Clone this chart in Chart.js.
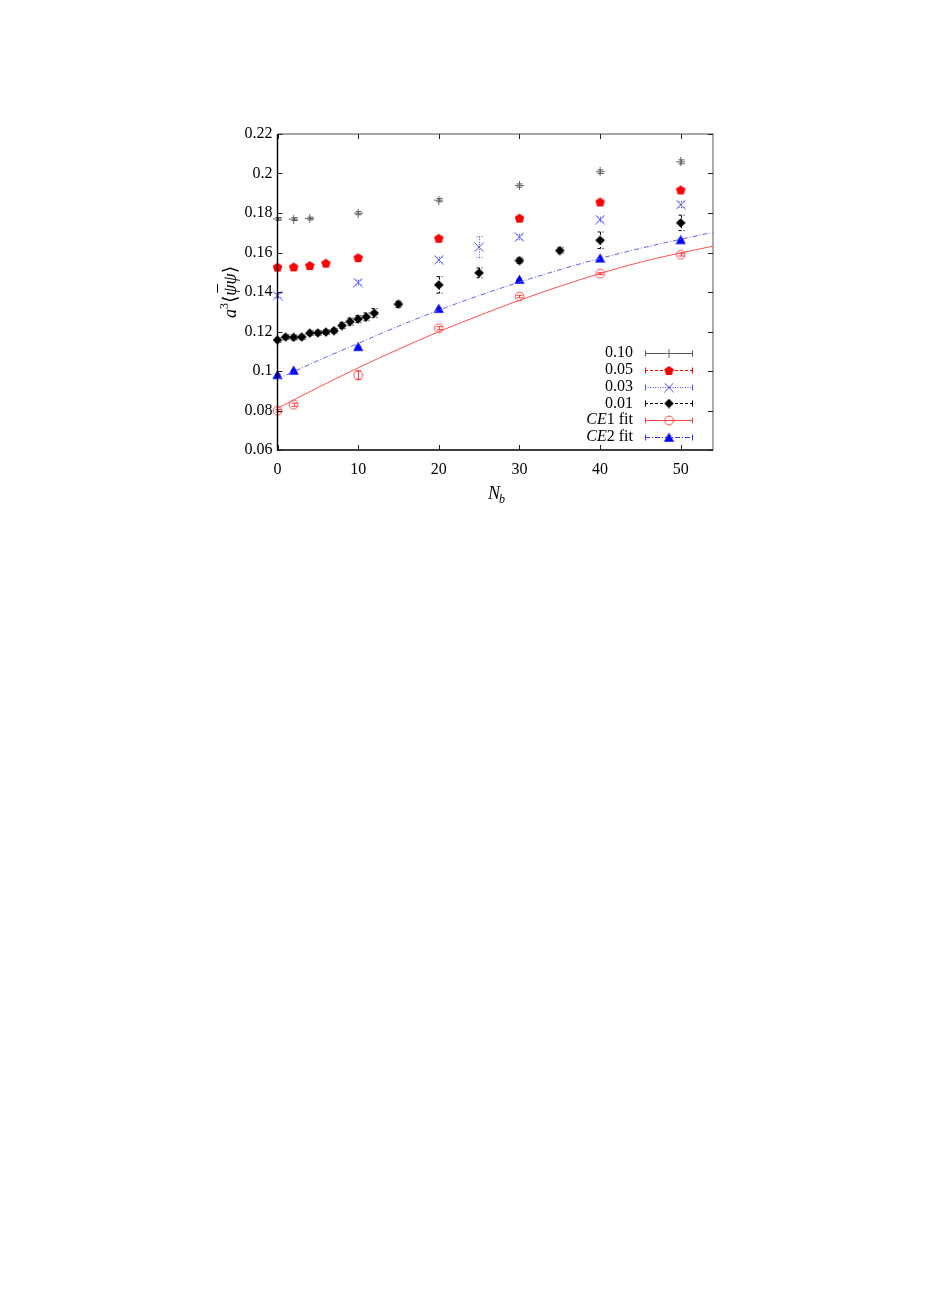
<!DOCTYPE html>
<html>
<head>
<meta charset="utf-8">
<script src="https://cdn.jsdelivr.net/npm/chart.js@4.4.0/dist/chart.umd.min.js"></script>
<style>
html, body { margin: 0; padding: 0; background: #fff; }
canvas { display: block; }
</style>
</head>
<body>
<canvas id="myChart" width="926" height="1309"></canvas>
<script>
// values
let nb10 = [0, 2, 4, 10, 20, 30, 40, 50];
let val10 = [0.1770, 0.1769, 0.1772, 0.1799, 0.1865, 0.1939, 0.2009, 0.2059];
let err10 = [0.0007, 0.0007, 0.0007, 0.0008, 0.0008, 0.0008, 0.0009, 0.0010];

let nb05 = [0, 2, 4, 6, 10, 20, 30, 40, 50];
let val05 = [0.1526, 0.1527, 0.1534, 0.1546, 0.1574, 0.1672, 0.1774, 0.1856, 0.1917];
let err05 = [0.0004, 0.0004, 0.0004, 0.0004, 0.0004, 0.0004, 0.0004, 0.0005, 0.0005];

let nb03 = [0, 10, 20, 25, 30, 40, 50];
let val03 = [0.1382, 0.1448, 0.1563, 0.1627, 0.1678, 0.1767, 0.1843];
let err03 = [0.0010, 0.0012, 0.0013, 0.0053, 0.0013, 0.0012, 0.0015];

let nb01 = [0, 1, 2, 3, 4, 5, 6, 7, 8, 9, 10, 11, 12, 15, 20, 25, 30, 35, 40, 50];
let val01 = [0.1157, 0.1172, 0.1170, 0.1172, 0.1192, 0.1193, 0.1197, 0.1204, 0.1230, 0.1250,
             0.1263, 0.1274, 0.1293, 0.1338, 0.1436, 0.1497, 0.1559, 0.1610, 0.1662, 0.1750];
let err01 = [0.0012, 0.0012, 0.0012, 0.0012, 0.0012, 0.0012, 0.0012, 0.0012, 0.0015, 0.0018,
             0.0018, 0.0020, 0.0023, 0.0015, 0.0042, 0.0025, 0.0013, 0.0014, 0.0042, 0.0039];

let nbCE1 = [0, 2, 10, 20, 30, 40, 50];
let valCE1 = [0.0799, 0.0829, 0.0979, 0.1217, 0.1377, 0.1493, 0.1588];
let errCE1 = [0.0006, 0.0008, 0.0022, 0.0008, 0.0006, 0.0005, 0.0006];

let nbCE2 = [0, 2, 10, 20, 30, 40, 50];
let valCE2 = [0.0981, 0.1003, 0.1123, 0.1316, 0.1463, 0.1571, 0.1664];
let errCE2 = [0.0003, 0.0003, 0.0003, 0.0003, 0.0003, 0.0003, 0.0003];

// fit curves, read at a few points
let fitNb = [0, 5, 10, 15, 20, 25, 30, 35, 40, 45, 50, 54];
let fitCE1 = [0.0811, 0.0916, 0.1016, 0.1110, 0.1199, 0.1281, 0.1358, 0.1429, 0.1494, 0.1551, 0.1598, 0.1632];
let fitCE2 = [0.0959, 0.1052, 0.1140, 0.1227, 0.1308, 0.1382, 0.1450, 0.1513, 0.1570, 0.1621, 0.1667, 0.1702];

let xTicks = [0, 10, 20, 30, 40, 50];
let yTicks = [0.06, 0.08, 0.10, 0.12, 0.14, 0.16, 0.18, 0.20, 0.22];
let yTickLabels = ['0.06', '0.08', '0.1', '0.12', '0.14', '0.16', '0.18', '0.2', '0.22'];

const SERIF = "'Liberation Serif', 'DejaVu Serif', serif";

function pts(xs, ys) {
  return xs.map((x, i) => ({ x: x, y: ys[i] }));
}

// marker images
function marker(size, fn) {
  const c = document.createElement('canvas');
  c.width = size; c.height = size;
  const g = c.getContext('2d');
  fn(g, size / 2);
  return c;
}
const mPlus = marker(9, (g, c) => {
  g.strokeStyle = '#666'; g.lineWidth = 1;
  g.beginPath(); g.moveTo(0, c); g.lineTo(9, c); g.moveTo(c, 0); g.lineTo(c, 9); g.stroke();
});
const mPenta = marker(11, (g, c) => {
  g.fillStyle = '#ff0000'; g.beginPath();
  for (let k = 0; k < 5; k++) {
    const a = -Math.PI / 2 + k * 2 * Math.PI / 5;
    g.lineTo(c + 5 * Math.cos(a), c + 0.4 + 5 * Math.sin(a));
  }
  g.closePath(); g.fill();
});
const mCross = marker(10, (g, c) => {
  g.strokeStyle = '#4a4aff'; g.lineWidth = 1;
  g.beginPath(); g.moveTo(0.5, 0.5); g.lineTo(9.5, 9.5); g.moveTo(9.5, 0.5); g.lineTo(0.5, 9.5); g.stroke();
});
const mDiamond = marker(10, (g, c) => {
  g.fillStyle = '#000'; g.beginPath();
  g.moveTo(c, 0.2); g.lineTo(9.8, c); g.lineTo(c, 9.8); g.lineTo(0.2, c); g.closePath(); g.fill();
});
const mCircle = marker(11, (g, c) => {
  g.strokeStyle = '#ff4040'; g.lineWidth = 1;
  g.beginPath(); g.arc(c, c, 4.4, 0, 2 * Math.PI); g.stroke();
});
const mTri = marker(11, (g, c) => {
  g.fillStyle = '#0000ff'; g.beginPath();
  g.moveTo(c, 0.6); g.lineTo(10.6, 9.8); g.lineTo(0.4, 9.8); g.closePath(); g.fill();
});

function series(label, xs, ys, errs, img, col, dash) {
  return {
    label: label, data: pts(xs, ys), errors: errs, errColor: col, errDash: dash,
    pointStyle: img, pointRadius: 5, showLine: false, borderColor: col, backgroundColor: col,
    clip: false, legend: true
  };
}

const datasets = [
  {
    label: 'fit1', data: pts(fitNb, fitCE1), showLine: true, pointRadius: 0,
    borderColor: '#ff5050', borderWidth: 1, cubicInterpolationMode: 'monotone', fill: false
  },
  {
    label: 'fit2', data: pts(fitNb, fitCE2), showLine: true, pointRadius: 0,
    borderColor: '#6060ff', borderWidth: 1, borderDash: [5, 2, 1, 2], cubicInterpolationMode: 'monotone', fill: false
  },
  series('0.10', nb10, val10, err10, mPlus, '#555', []),
  series('0.05', nb05, val05, err05, mPenta, '#ff0000', [3, 2]),
  series('0.03', nb03, val03, err03, mCross, '#5050ff', [1, 1.5]),
  series('0.01', nb01, val01, err01, mDiamond, '#000', [3, 2]),
  series('CE1 fit', nbCE1, valCE1, errCE1, mCircle, '#ff4040', []),
  series('CE2 fit', nbCE2, valCE2, errCE2, mTri, '#3030ff', [5, 2, 1, 2])
];

const decor = {
  id: 'decor',
  beforeDatasetsDraw(chart) {
    const ctx = chart.ctx, xs = chart.scales.x, ys = chart.scales.y;
    ctx.save();
    ctx.lineWidth = 1;
    chart.data.datasets.forEach(ds => {
      if (!ds.errors) return;
      ctx.strokeStyle = ds.errColor;
      ctx.setLineDash(ds.errDash);
      ds.data.forEach((p, i) => {
        const e = ds.errors[i];
        const px = Math.round(xs.getPixelForValue(p.x)) + 0.5;
        const t = ys.getPixelForValue(p.y + e), b = ys.getPixelForValue(p.y - e);
        ctx.beginPath();
        ctx.moveTo(px, t); ctx.lineTo(px, b);
        ctx.moveTo(px - 3, t); ctx.lineTo(px + 3, t);
        ctx.moveTo(px - 3, b); ctx.lineTo(px + 3, b);
        ctx.stroke();
      });
    });
    ctx.restore();
  },
  afterDraw(chart) {
    const ctx = chart.ctx, a = chart.chartArea, xs = chart.scales.x, ys = chart.scales.y;
    ctx.save();
    // frame
    ctx.lineWidth = 1.4;
    ctx.strokeStyle = '#888';
    ctx.beginPath();
    ctx.moveTo(a.left, a.top); ctx.lineTo(a.right, a.top); ctx.lineTo(a.right, a.bottom);
    ctx.stroke();
    ctx.strokeStyle = '#000';
    ctx.beginPath();
    ctx.moveTo(a.left, a.top); ctx.lineTo(a.left, a.bottom); ctx.lineTo(a.right, a.bottom);
    ctx.stroke();
    // inward ticks on all sides
    ctx.lineWidth = 1;
    ctx.strokeStyle = '#222';
    ctx.beginPath();
    xTicks.forEach(v => {
      const px = Math.round(xs.getPixelForValue(v)) + 0.5;
      ctx.moveTo(px, a.bottom); ctx.lineTo(px, a.bottom - 5);
      ctx.moveTo(px, a.top); ctx.lineTo(px, a.top + 5);
    });
    yTicks.forEach(v => {
      const py = Math.round(ys.getPixelForValue(v)) + 0.5;
      ctx.moveTo(a.left, py); ctx.lineTo(a.left + 5, py);
      ctx.moveTo(a.right, py); ctx.lineTo(a.right - 5, py);
    });
    ctx.stroke();

    // x axis title N_b
    ctx.fillStyle = '#000';
    ctx.textBaseline = 'alphabetic';
    ctx.textAlign = 'left';
    ctx.font = 'italic 18px ' + SERIF;
    ctx.fillText('N', 488, 499);
    const nw = ctx.measureText('N').width;
    ctx.font = 'italic 12px ' + SERIF;
    ctx.fillText('b', 487 + nw, 503);

    // y axis title a^3 <psibar psi>
    ctx.save();
    ctx.translate(230, 292);
    ctx.rotate(-Math.PI / 2);
    const parts = [
      ['italic 18px ' + SERIF, 'a', 0],
      ['12px ' + SERIF, '3', -8],
      ['19px ' + SERIF, '\u27E8', 0],
      ['italic 18px ' + SERIF, '\u03C8', 0],
      ['italic 18px ' + SERIF, '\u03C8', 0],
      ['19px ' + SERIF, '\u27E9', 0]
    ];
    let tot = 0;
    parts.forEach(p => { ctx.font = p[0]; tot += ctx.measureText(p[1]).width; });
    let cx = -tot / 2;
    parts.forEach((p, i) => {
      ctx.font = p[0];
      ctx.fillText(p[1], cx, 6 + p[2]);
      const w = ctx.measureText(p[1]).width;
      if (i === 3) {
        ctx.fillRect(cx + 3, -13, w - 2.5, 1);
      }
      cx += w;
    });
    ctx.restore();

    // legend
    const rows = chart.data.datasets.filter(d => d.legend);
    const textRight = 633, l0 = 645, l1 = 693, mx = 669;
    rows.forEach((ds, i) => {
      const y = 353 + i * 16.8;
      const yy = Math.round(y) + 0.5;
      // label
      ctx.textBaseline = 'middle';
      ctx.textAlign = 'right';
      ctx.fillStyle = '#000';
      if (ds.label.startsWith('CE')) {
        ctx.font = '16px ' + SERIF;
        const rest = ds.label.slice(2);
        ctx.fillText(rest, textRight, y);
        const rw = ctx.measureText(rest).width;
        ctx.font = 'italic 16px ' + SERIF;
        ctx.fillText('CE', textRight - rw, y);
      } else {
        ctx.font = '16px ' + SERIF;
        ctx.fillText(ds.label, textRight, y);
      }
      // sample line with error-bar ends
      ctx.strokeStyle = ds.errColor;
      ctx.lineWidth = 1;
      ctx.setLineDash(ds.errDash);
      ctx.beginPath();
      ctx.moveTo(l0, yy); ctx.lineTo(l1, yy);
      ctx.stroke();
      ctx.setLineDash([]);
      ctx.beginPath();
      ctx.moveTo(l0 + 0.5, yy - 3); ctx.lineTo(l0 + 0.5, yy + 3);
      ctx.moveTo(l1 - 0.5, yy - 3); ctx.lineTo(l1 - 0.5, yy + 3);
      ctx.stroke();
      const img = ds.pointStyle;
      ctx.drawImage(img, mx - img.width / 2, yy - img.height / 2);
    });
    ctx.restore();
  }
};

let chartElement = document.getElementById('myChart').getContext('2d');

let myChart = new Chart(chartElement, {
  type: 'scatter',
  data: { datasets: datasets },
  plugins: [decor],
  options: {
    responsive: false,
    animation: false,
    devicePixelRatio: 1,
    layout: { padding: { left: 0, top: 134, right: 213, bottom: 799 } },
    plugins: { legend: { display: false }, tooltip: { enabled: false } },
    scales: {
      x: {
        type: 'linear', min: 0, max: 54,
        grid: { display: false, drawTicks: false },
        border: { display: false },
        afterBuildTicks: s => { s.ticks = xTicks.map(v => ({ value: v })); },
        afterFit: s => { s.height = 60; },
        ticks: {
          padding: 10, color: '#000', maxRotation: 0,
          font: { family: SERIF, size: 16 },
          callback: v => String(v)
        }
      },
      y: {
        type: 'linear', min: 0.06, max: 0.22,
        grid: { display: false, drawTicks: false },
        border: { display: false },
        afterBuildTicks: s => { s.ticks = yTicks.map(v => ({ value: v })); },
        afterFit: s => { s.width = 277.5; },
        ticks: {
          padding: 5, color: '#000',
          font: { family: SERIF, size: 16 },
          callback: (v, i) => yTickLabels[i]
        }
      }
    }
  }
});
</script>
</body>
</html>
